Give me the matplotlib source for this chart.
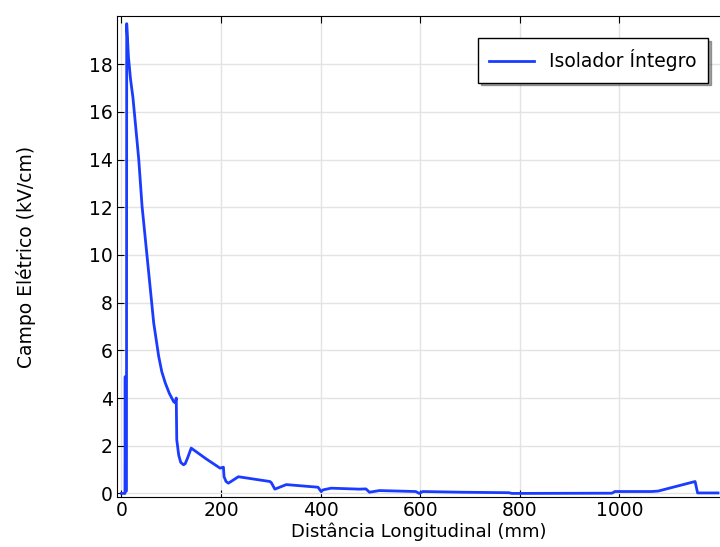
import matplotlib
matplotlib.use("Agg")
import matplotlib.pyplot as plt

# Campo elétrico ao longo do isolador
dist_mm = [0, 7, 7.5, 8, 10, 10.5, 14, 18, 23, 28, 34.7, 41.3, 48, 54.7, 64.7,
           74.7, 81, 88, 96, 104.7, 108, 110, 111, 115, 119, 124.7, 128, 133,
           140, 170, 198, 204.7, 206, 210, 214.7, 220, 234.7, 298, 301, 308,
           331, 394.7, 401, 405, 421, 478, 491, 498, 518, 591, 598, 605, 685,
           778, 784, 985, 991, 1065, 1078, 1152, 1157, 1198]
campo_kv_cm = [0, 0, 4.9, 0.1, 0.1, 19.7, 18.3, 17.4, 16.6, 15.5, 14.0, 12.05,
               10.65, 9.25, 7.15, 5.75, 5.1, 4.63, 4.2, 3.85, 3.8, 4.0, 2.25,
               1.6, 1.3, 1.2, 1.25, 1.5, 1.9, 1.45, 1.06, 1.1, 0.7, 0.5, 0.43,
               0.5, 0.7, 0.5, 0.45, 0.18, 0.37, 0.26, 0.08, 0.15, 0.22, 0.18,
               0.19, 0.05, 0.12, 0.08, 0.0, 0.08, 0.05, 0.03, 0.0, 0.01, 0.08,
               0.08, 0.1, 0.5, 0.02, 0.02]

plt.rcParams["font.family"] = "DejaVu Sans"

fig = plt.figure(figsize=(7.2, 5.47), dpi=100)
ax = fig.add_axes([0.1625, 0.0914, 0.8375, 0.8793])

ax.plot(dist_mm, campo_kv_cm, color="#1a3cff", linewidth=2, label="Isolador Íntegro")

ax.set_xlim(-9, 1202)
ax.set_ylim(-0.15, 20.02)
ax.set_xticks([0, 200, 400, 600, 800, 1000])
ax.set_yticks(range(0, 20, 2))
ax.grid(True, color="#e3e3e3", linewidth=1)
ax.set_axisbelow(True)
ax.tick_params(direction="in", top=True, length=5, labelsize=13.5, pad=3)
ax.spines["right"].set_visible(False)

ax.set_xlabel("Distância Longitudinal (mm)", fontsize=13, labelpad=2)
ax.set_ylabel("Campo Elétrico (kV/cm)", fontsize=13.5, labelpad=38)

leg = ax.legend(loc="upper right", bbox_to_anchor=(0.98, 0.954), fontsize=13.5,
                fancybox=False, shadow=True, framealpha=1, borderpad=0.6,
                handlelength=2.4, borderaxespad=0)
leg.get_frame().set_edgecolor("black")

fig.savefig("out.png", dpi=100)
